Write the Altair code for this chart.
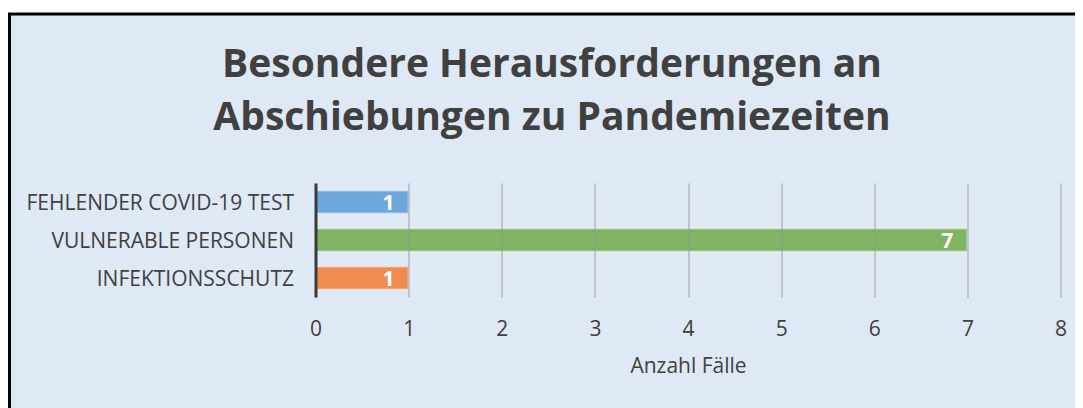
import altair as alt
import pandas as pd

categories = ["FEHLENDER COVID-19 TEST", "VULNERABLE PERSONEN", "INFEKTIONSSCHUTZ"]
values = [1, 7, 1]
colors = ["#6FA6DB", "#7FB462", "#EE8D4F"]
x_ticks = [0, 1, 2, 3, 4, 5, 6, 7, 8]

title_lines = ["Besondere Herausforderungen an", "Abschiebungen zu Pandemiezeiten"]
x_title = "Anzahl Fälle"

df = pd.DataFrame({"Kategorie": categories, "Wert": values})

FONT = "Open Sans"
TXT = "#404040"

frame = alt.Chart(alt.Data(values=[{"k": 1}])).mark_rect(
    fill="#DEE9F5", stroke="#000000", strokeWidth=3
).encode(
    x=alt.value(-306), x2=alt.value(1000),
    y=alt.value(-169), y2=alt.value(400)
)

y_enc = alt.Y(
    "Kategorie:N",
    sort=categories,
    scale=alt.Scale(paddingInner=0.4, paddingOuter=0.2),
    axis=alt.Axis(
        title=None, labelFont=FONT, labelFontSize=21, labelColor=TXT,
        labelPadding=22, ticks=False, domainColor="#3A3A3A", domainWidth=3,
        grid=False, labelOffset=2, zindex=2, labelLimit=400,
    ),
)
x_enc = alt.X(
    "Wert:Q",
    scale=alt.Scale(domain=[0, 8], nice=False),
    axis=alt.Axis(
        values=x_ticks, format="d", labelFlush=False, title=x_title, grid=True,
        gridColor="#8C959E", gridOpacity=0.6, gridWidth=1.5, domain=False,
        ticks=False, tickSize=0, labelPadding=21, labelFont=FONT,
        labelFontSize=21, labelColor=TXT, titleFont=FONT, titleFontSize=21,
        titleFontWeight="normal", titleColor=TXT, titleBaseline="top",
        titleY=58, zindex=1,
    ),
)

bars = alt.Chart(df).mark_bar(
    stroke="white", strokeOpacity=0.45, strokeWidth=2
).encode(
    x=x_enc, y=y_enc,
    color=alt.Color("Kategorie:N", scale=alt.Scale(domain=categories, range=colors), legend=None),
)

labels = alt.Chart(df).mark_text(
    align="right", baseline="middle", dx=-14, dy=2, color="white",
    fontWeight="bold", fontSize=21, font=FONT
).encode(
    x=alt.X("Wert:Q"), y=alt.Y("Kategorie:N", sort=categories), text="Wert:Q"
)

chart = alt.layer(frame, bars, labels).properties(
    width=745, height=114,
    title=alt.Title(
        title_lines, fontSize=39, font=FONT, fontWeight="bold", color=TXT,
        anchor="middle", frame="group", dx=-136, offset=-125, lineHeight=53,
    ),
    autosize=alt.AutoSizeParams(type="none"),
    padding={"left": 307.5, "top": 175, "right": 14.5, "bottom": 115},
).configure(background="#FFFFFF").configure_view(stroke=None)

chart.save("out.html", embed_options={"renderer": "svg", "actions": False})
